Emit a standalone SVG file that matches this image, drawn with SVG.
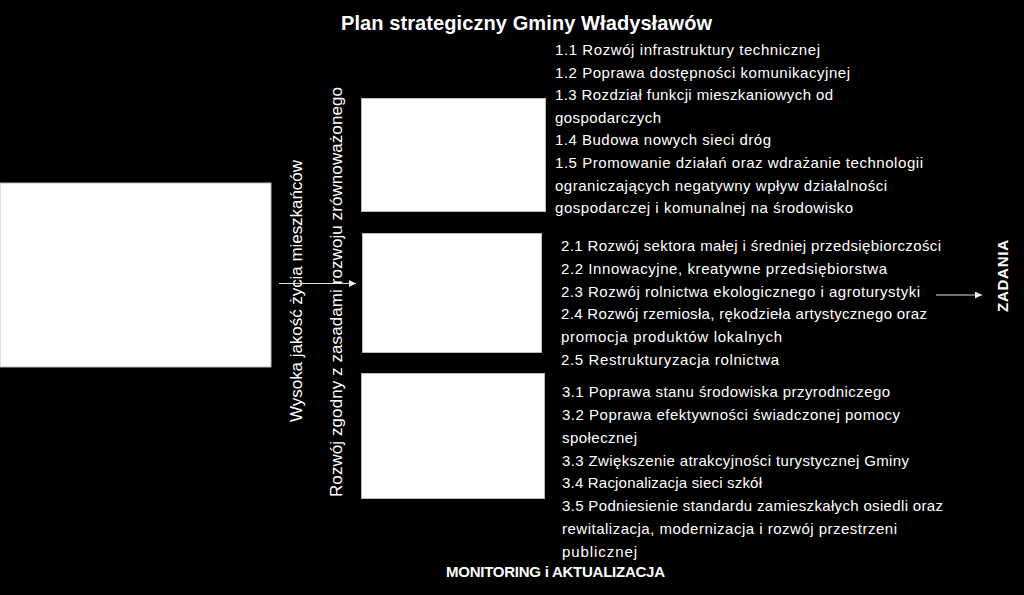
<svg xmlns="http://www.w3.org/2000/svg" width="1024" height="595" viewBox="0 0 1024 595">
<style>
.t{font-family:"Liberation Sans",Arial,sans-serif;font-size:15px;fill:#fff}
.b{font-family:"Liberation Sans",Arial,sans-serif;font-weight:bold;fill:#fff}
.v{font-family:"Liberation Sans",Arial,sans-serif;font-size:17px;fill:#fff}
.box{fill:#fff;stroke:#bbb;stroke-width:1}
.con{stroke:#ddd;stroke-width:1.2;fill:none}
</style>
<defs>
<marker id="ah" viewBox="0 0 10 10" refX="10" refY="5" markerWidth="7" markerHeight="7" markerUnits="userSpaceOnUse" orient="auto">
<path d="M0,0 L10,5 L0,10 z" fill="#eee"/>
</marker>
</defs>
<rect width="1024" height="595" fill="#000"/>
<text class="b" x="341" y="30" font-size="20" textLength="371">Plan strategiczny Gminy Władysławów</text>
<g id="left"><rect class="box" x="0" y="183" width="271" height="184"/></g>
<g id="box1"><rect class="box" x="361.5" y="98.5" width="184" height="113"/></g>
<g id="box2"><rect class="box" x="362.5" y="233.5" width="179" height="119"/></g>
<g id="box3"><rect class="box" x="361.5" y="373.5" width="183" height="125"/></g>
<g id="labels">
<text class="v" transform="translate(302,422) rotate(-90)" textLength="262">Wysoka jakość życia mieszkańców</text>
<text class="v" transform="translate(342,497) rotate(-90)" textLength="410">Rozwój zgodny z zasadami rozwoju zrównoważonego</text>
</g>
<g id="connectors">
<line class="con" x1="279" y1="283.5" x2="356" y2="283.5" marker-end="url(#ah)"/>
<line class="con" x1="936" y1="295" x2="982" y2="295" marker-end="url(#ah)"/>
</g>
<g id="list1">
<text class="t" x="555" y="55" textLength="265">1.1 Rozwój infrastruktury technicznej</text>
<text class="t" x="555" y="77.6" textLength="295">1.2 Poprawa dostępności komunikacyjnej</text>
<text class="t" x="555" y="100.2" textLength="278">1.3 Rozdział funkcji mieszkaniowych od</text>
<text class="t" x="555" y="122.8" textLength="106">gospodarczych</text>
<text class="t" x="555" y="145.4" textLength="216">1.4 Budowa nowych sieci dróg</text>
<text class="t" x="555" y="168" textLength="368">1.5 Promowanie działań oraz wdrażanie technologii</text>
<text class="t" x="555" y="190.6" textLength="332">ograniczających negatywny wpływ działalności</text>
<text class="t" x="555" y="213.2" textLength="298">gospodarczej i komunalnej na środowisko</text>
</g>
<g id="list2">
<text class="t" x="561" y="251" textLength="380">2.1 Rozwój sektora małej i średniej przedsiębiorczości</text>
<text class="t" x="561" y="273.8" textLength="326">2.2 Innowacyjne, kreatywne przedsiębiorstwa</text>
<text class="t" x="561" y="296.6" textLength="359">2.3 Rozwój rolnictwa ekologicznego i agroturystyki</text>
<text class="t" x="561" y="319.4" textLength="366">2.4 Rozwój rzemiosła, rękodzieła artystycznego oraz</text>
<text class="t" x="561" y="342.2" textLength="221">promocja produktów lokalnych</text>
<text class="t" x="561" y="365" textLength="218">2.5 Restrukturyzacja rolnictwa</text>
</g>
<g id="list3">
<text class="t" x="562" y="397" textLength="328">3.1 Poprawa stanu środowiska przyrodniczego</text>
<text class="t" x="562" y="419.9" textLength="338">3.2 Poprawa efektywności świadczonej pomocy</text>
<text class="t" x="562" y="442.7" textLength="75">społecznej</text>
<text class="t" x="562" y="465.6" textLength="347">3.3 Zwiększenie atrakcyjności turystycznej Gminy</text>
<text class="t" x="562" y="488.4" textLength="200">3.4 Racjonalizacja sieci szkół</text>
<text class="t" x="562" y="511.3" textLength="381">3.5 Podniesienie standardu zamieszkałych osiedli oraz</text>
<text class="t" x="562" y="534.1" textLength="335">rewitalizacja, modernizacja i rozwój przestrzeni</text>
<text class="t" x="562" y="557" textLength="75">publicznej</text>
</g>
<g id="zadania"><text class="b" font-size="15" transform="translate(1008,312) rotate(-90)" textLength="72">ZADANIA</text></g>
<g id="monitoring"><text class="b" x="446" y="577" font-size="15" textLength="219">MONITORING i AKTUALIZACJA</text></g>
</svg>
